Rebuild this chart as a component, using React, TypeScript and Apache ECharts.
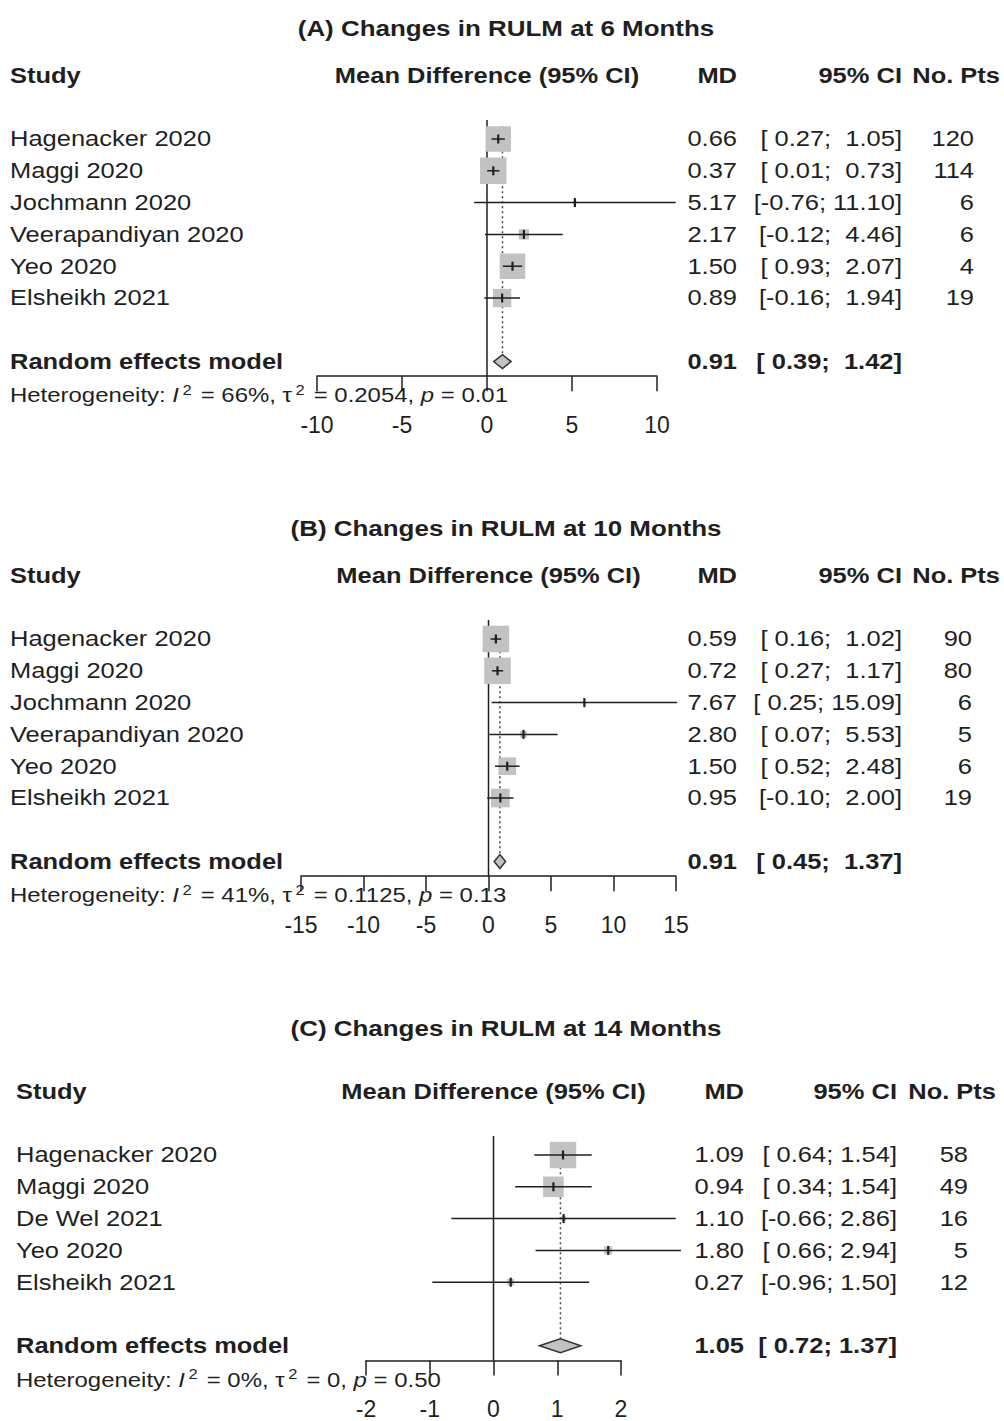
import React, { useEffect, useRef } from "react";
import * as echarts from "echarts";

// ---------- Panel A: RULM at 6 months ----------
const titleA = "(A) Changes in RULM at 6 Months";
const studiesA = ["Hagenacker 2020", "Maggi 2020", "Jochmann 2020", "Veerapandiyan 2020", "Yeo 2020", "Elsheikh 2021"];
const mdA = [0.66, 0.37, 5.17, 2.17, 1.5, 0.89];
const lowerA = [0.27, 0.01, -0.76, -0.12, 0.93, -0.16];
const upperA = [1.05, 0.73, 11.1, 4.46, 2.07, 1.94];
const ptsA = [120, 114, 6, 6, 4, 19];
const weightA = [26.4, 28.6, 0.5, 4.3, 26.5, 13.7];
const pooledA = [0.91, 0.39, 1.42];
const hetA = ["66%", "0.2054", "0.01"];
const ticksA = [-10, -5, 0, 5, 10];

// ---------- Panel B: RULM at 10 months ----------
const titleB = "(B) Changes in RULM at 10 Months";
const studiesB = ["Hagenacker 2020", "Maggi 2020", "Jochmann 2020", "Veerapandiyan 2020", "Yeo 2020", "Elsheikh 2021"];
const mdB = [0.59, 0.72, 7.67, 2.8, 1.5, 0.95];
const lowerB = [0.16, 0.27, 0.25, 0.07, 0.52, -0.1];
const upperB = [1.02, 1.17, 15.09, 5.53, 2.48, 2.0];
const ptsB = [90, 80, 6, 5, 6, 19];
const weightB = [33.1, 33.1, 0.4, 2.2, 14.7, 16.4];
const pooledB = [0.91, 0.45, 1.37];
const hetB = ["41%", "0.1125", "0.13"];
const ticksB = [-15, -10, -5, 0, 5, 10, 15];

// ---------- Panel C: RULM at 14 months ----------
const titleC = "(C) Changes in RULM at 14 Months";
const studiesC = ["Hagenacker 2020", "Maggi 2020", "De Wel 2021", "Yeo 2020", "Elsheikh 2021"];
const mdC = [1.09, 0.94, 1.1, 1.8, 0.27];
const lowerC = [0.64, 0.34, -0.66, 0.66, -0.96];
const upperC = [1.54, 1.54, 2.86, 2.94, 1.5];
const ptsC = [58, 49, 16, 5, 12];
const weightC = [55.7, 33.7, 1.9, 4.9, 3.7];
const pooledC = [1.05, 0.72, 1.37];
const hetC = ["0%", "0", "0.50"];
const ticksC = [-2, -1, 0, 1, 2];

const headers = ["Study", "Mean Difference (95% CI)", "MD", "95% CI", "No. Pts"];
const pooledLabel = "Random effects model";

// ---------- styling / layout ----------
const FONT = '"Liberation Sans", Arial, Helvetica, sans-serif';
const SX = 1.18; // horizontal stretch of the reference
const INK = "#1f1f1f";
const SQUARE = "#c2c2c2";
const ROW = 31.8;
const FS = 21.6;
const HFS = 20.3;

const panels = [
  {
    title: titleA, studies: studiesA, md: mdA, lo: lowerA, hi: upperA, n: ptsA, w: weightA,
    pooled: pooledA, het: hetA, ticks: ticksA,
    L: { firstY: 139, left: 317, width: 340, nameX: 10, mdX: 737, ciX: 902, nX: 974, nHeadX: 1000, titleX: 506, titleRow: -2.49 },
  },
  {
    title: titleB, studies: studiesB, md: mdB, lo: lowerB, hi: upperB, n: ptsB, w: weightB,
    pooled: pooledB, het: hetB, ticks: ticksB,
    L: { firstY: 639, left: 301, width: 375, nameX: 10, mdX: 737, ciX: 902, nX: 972, nHeadX: 1000, titleX: 506, titleRow: -2.49 },
  },
  {
    title: titleC, studies: studiesC, md: mdC, lo: lowerC, hi: upperC, n: ptsC, w: weightC,
    pooled: pooledC, het: hetC, ticks: ticksC,
    L: { firstY: 1155, left: 366, width: 255, nameX: 16, mdX: 744, ciX: 897, nX: 968, nHeadX: 996, titleX: 506, titleRow: -2.99 },
  },
];

const fmt = (v: number) => v.toFixed(2);
const padL = (s: string, w: number) => {
  while (s.length < w) s = " " + s;
  return s;
};

function buildOption() {
  const grid: any[] = [];
  const xAxis: any[] = [];
  const yAxis: any[] = [];
  const series: any[] = [];

  panels.forEach((P, pi) => {
    const k = P.studies.length;
    const pooledRow = k + 2;
    const yMin = 0.4;
    const yMax = pooledRow + 0.46;
    const L = P.L;
    grid.push({
      left: L.left,
      width: L.width,
      top: L.firstY + (yMin - 1) * ROW,
      height: (yMax - yMin) * ROW,
      containLabel: false,
    });
    const t = P.ticks;
    xAxis.push({
      gridIndex: pi,
      type: "value",
      min: t[0],
      max: t[t.length - 1],
      interval: t[1] - t[0],
      splitLine: { show: false },
      axisLine: { show: true, onZero: false, lineStyle: { color: INK, width: 1.5 } },
      axisTick: { show: true, inside: false, length: 15, lineStyle: { color: INK, width: 1.5 } },
      axisLabel: { show: true, margin: 37, fontSize: 23, color: INK, fontFamily: FONT, hideOverlap: false },
    });
    yAxis.push({
      gridIndex: pi,
      type: "value",
      inverse: true,
      min: yMin,
      max: yMax,
      show: false,
      splitLine: { show: false },
      axisLine: { onZero: false },
    });

    const wl = Math.max(...P.lo.map((v) => fmt(v).length), fmt(P.pooled[1]).length);
    const wh = Math.max(...P.hi.map((v) => fmt(v).length), fmt(P.pooled[2]).length);
    const ci = (lo: number, hi: number) => "[" + padL(fmt(lo), wl) + "; " + padL(fmt(hi), wh) + "]";
    const maxW = Math.max(...P.w);

    const data: number[][] = [[0, 1]];
    P.md.forEach((m, j) => data.push([m, j + 1]));
    data.push([P.pooled[0], pooledRow]);

    const txt = (x: number, y: number, text: string, o: any = {}) => ({
      type: "text",
      x,
      y,
      scaleX: SX,
      silent: true,
      style: {
        text,
        fill: INK,
        fontFamily: FONT,
        fontSize: o.size || FS,
        fontWeight: o.bold ? "bold" : "normal",
        align: o.align || "left",
        verticalAlign: "middle",
      },
    });

    series.push({
      type: "custom",
      xAxisIndex: pi,
      yAxisIndex: pi,
      clip: false,
      silent: true,
      data,
      encode: { x: 0, y: 1 },
      renderItem: (params: any, api: any) => {
        const i = params.dataIndex;
        const yOf = (r: number) => api.coord([0, r])[1];
        const xOf = (v: number) => api.coord([v, 1])[0];
        if (i === 0) {
          const headY = yOf(-1);
          const midX = xOf((t[0] + t[t.length - 1]) / 2);
          const zeroX = xOf(0);
          const pooledX = xOf(P.pooled[0]);
          const hetY = yOf(pooledRow + 1.07);
          return {
            type: "group",
            children: [
              txt(L.titleX, yOf(L.titleRow), P.title, { bold: true, size: 22, align: "center" }),
              txt(L.nameX, headY, headers[0], { bold: true }),
              txt(midX, headY, headers[1], { bold: true, align: "center" }),
              txt(L.mdX, headY, headers[2], { bold: true, align: "right" }),
              txt(L.ciX, headY, headers[3], { bold: true, align: "right" }),
              txt(L.nHeadX, headY, headers[4], { bold: true, align: "right" }),
              {
                type: "line",
                silent: true,
                shape: { x1: zeroX, y1: yOf(yMin), x2: zeroX, y2: yOf(yMax) },
                style: { stroke: INK, lineWidth: 1.5 },
              },
              {
                type: "line",
                silent: true,
                shape: { x1: pooledX, y1: yOf(0.6), x2: pooledX, y2: yOf(pooledRow - 0.22) },
                style: { stroke: "#444", lineWidth: 1.5, lineDash: [2, 3] },
              },
              {
                type: "text",
                x: L.nameX,
                y: hetY,
                scaleX: SX,
                silent: true,
                style: {
                  text:
                    "Heterogeneity: {it|I}{sup|2}{n| = " + P.het[0] + ", τ}{sup|2}{n| = " + P.het[1] + ", }{it|p}{n| = " + P.het[2] + "}",
                  fill: INK,
                  fontFamily: FONT,
                  fontSize: HFS,
                  lineHeight: 25,
                  align: "left",
                  verticalAlign: "middle",
                  rich: {
                    n: { fontSize: HFS, fontFamily: FONT, fill: INK, lineHeight: 25 },
                    it: { fontSize: HFS, fontFamily: FONT, fill: INK, fontStyle: "italic", lineHeight: 25 },
                    sup: { fontSize: 14, fontFamily: FONT, fill: INK, verticalAlign: "top", lineHeight: 14, padding: [0, 2, 0, 3] },
                  },
                },
              },
            ],
          };
        }
        if (i <= k) {
          const j = i - 1;
          const y = yOf(i);
          const cx = xOf(P.md[j]);
          const side = 26.5 * Math.sqrt(P.w[j] / maxW);
          const x1 = xOf(P.lo[j]);
          const x2 = xOf(P.hi[j]);
          return {
            type: "group",
            children: [
              txt(L.nameX, y, P.studies[j]),
              txt(L.mdX, y, fmt(P.md[j]), { align: "right" }),
              txt(L.ciX, y, ci(P.lo[j], P.hi[j]), { align: "right" }),
              txt(L.nX, y, String(P.n[j]), { align: "right" }),
              {
                type: "rect",
                silent: true,
                shape: { x: cx - side / 2, y: y - side / 2, width: side, height: side },
                style: { fill: SQUARE },
              },
              {
                type: "line",
                silent: true,
                shape: { x1, y1: y, x2, y2: y },
                style: { stroke: INK, lineWidth: 1.5 },
              },
              {
                type: "line",
                silent: true,
                shape: { x1: cx, y1: y - 4.5, x2: cx, y2: y + 4.5 },
                style: { stroke: INK, lineWidth: 2.2 },
              },
            ],
          };
        }
        const y = yOf(pooledRow);
        const xl = xOf(P.pooled[1]);
        const xm = xOf(P.pooled[0]);
        const xr = xOf(P.pooled[2]);
        return {
          type: "group",
          children: [
            txt(L.nameX, y, pooledLabel, { bold: true }),
            txt(L.mdX, y, fmt(P.pooled[0]), { bold: true, align: "right" }),
            txt(L.ciX, y, ci(P.pooled[1], P.pooled[2]), { bold: true, align: "right" }),
            {
              type: "polygon",
              silent: true,
              shape: { points: [[xl, y], [xm, y - 7], [xr, y], [xm, y + 7]] },
              style: { fill: SQUARE, stroke: "#333", lineWidth: 1.5 },
            },
          ],
        };
      },
    });
  });

  return {
    animation: false,
    backgroundColor: "#ffffff",
    grid,
    xAxis,
    yAxis,
    series,
  };
}

export default function App() {
  const ref = useRef<HTMLDivElement>(null);
  useEffect(() => {
    if (!ref.current) return;
    const chart = echarts.init(ref.current, undefined, { renderer: "svg" });
    chart.setOption(buildOption() as any);
    return () => chart.dispose();
  }, []);
  return (
    <div
      ref={ref}
      style={{ position: "absolute", left: 0, top: 0, width: 1004, height: 1421, background: "#fff" }}
    />
  );
}
